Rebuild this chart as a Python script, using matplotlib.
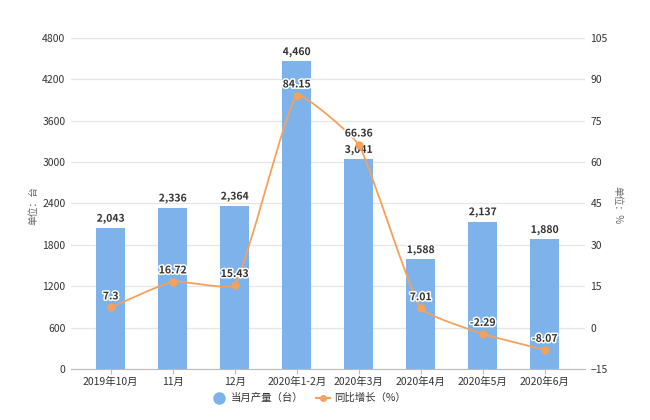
import matplotlib
matplotlib.use("Agg")
import matplotlib.pyplot as plt
from matplotlib.path import Path
from matplotlib.patches import PathPatch
from matplotlib.lines import Line2D
import matplotlib.patheffects as pe
import numpy as np

plt.rcParams['font.family'] = ['Noto Sans CJK SC', 'DejaVu Sans']

categories = ['2019年10月', '11月', '12月', '2020年1-2月', '2020年3月', '2020年4月', '2020年5月', '2020年6月']
output_units = [2043, 2336, 2364, 4460, 3041, 1588, 2137, 1880]
yoy_growth = [7.3, 16.72, 15.43, 84.15, 66.36, 7.01, -2.29, -8.07]
left_ticks = [0, 600, 1200, 1800, 2400, 3000, 3600, 4200, 4800]
right_ticks = [-15, 0, 15, 30, 45, 60, 75, 90, 105]

bar_color = '#7db3ea'
line_color = '#f5a15c'
text_color = '#333333'

fig = plt.figure(figsize=(6.5, 4.2), dpi=100)
ax = fig.add_axes([71/650, 1 - 369/420, (585-71)/650, (369-38)/420])
ax2 = ax.twinx()

x = np.arange(len(categories))
ax.bar(x, output_units, width=0.47, color=bar_color, zorder=2)
ax.set_xlim(-0.64, 7.65)
ax.set_ylim(0, 4800)
ax.set_yticks(left_ticks)
ax.set_xticks(x)
ax.set_xticklabels(categories, fontsize=7.5, color=text_color)
ax.tick_params(axis='y', labelsize=7.5, labelcolor=text_color, length=0, pad=4)
ax.tick_params(axis='x', length=3.5, width=0.8, color='#bbbbbb', pad=2)
ax.grid(axis='y', color='#e6e6e6', linewidth=0.9, zorder=0)
for s in ['top', 'right', 'left']:
    ax.spines[s].set_visible(False)
ax.spines['bottom'].set_color('#bbbbbb')
ax.set_axisbelow(True)

ax2.set_ylim(-15, 105)
ax2.set_yticks(right_ticks)
ax2.tick_params(axis='y', labelsize=7.5, labelcolor=text_color, length=0, pad=4)
for s in ax2.spines.values():
    s.set_visible(False)

# lightly smoothed line (echarts-like bezier smoothing)
sx = 62.0
sy = 331 / 120.0
pts = np.column_stack([x.astype(float), np.array(yoy_growth, dtype=float)])
n = len(pts)
smooth = 0.13
verts = [tuple(pts[0])]
codes = [Path.MOVETO]
cps = []
for i in range(n):
    if i == 0 or i == n - 1:
        cps.append((pts[i], pts[i]))
        continue
    prev, cur, nxt = pts[i-1], pts[i], pts[i+1]
    v = nxt - prev
    d0 = np.hypot((cur[0]-prev[0])*sx, (cur[1]-prev[1])*sy)
    d1 = np.hypot((nxt[0]-cur[0])*sx, (nxt[1]-cur[1])*sy)
    r = d0 + d1
    c0 = cur - v * smooth * d0 / r
    c1 = cur + v * smooth * d1 / r
    cps.append((c0, c1))
for i in range(n - 1):
    verts += [tuple(cps[i][1]), tuple(cps[i+1][0]), tuple(pts[i+1])]
    codes += [Path.CURVE4] * 3
path = Path(verts, codes)
ax2.add_patch(PathPatch(path, facecolor='none', edgecolor=line_color, linewidth=1.3, zorder=3))
ax2.plot(x, yoy_growth, linestyle='none', marker='o', markersize=5, color=line_color, zorder=4)

halo = [pe.withStroke(linewidth=2.2, foreground='white')]
for xi, v in zip(x, output_units):
    ax.text(xi, v + 60, f'{v:,}', ha='center', va='bottom', fontsize=7.5, fontweight='bold',
            color=text_color, path_effects=halo, zorder=5)
for xi, v in zip(x, yoy_growth):
    ax2.text(xi, v + 2.2, f'{v:g}', ha='center', va='bottom', fontsize=7.5, fontweight='bold',
             color=text_color, path_effects=halo, zorder=6)

fig.text(33/650, 1 - 205/420, '单位：台', rotation=90, ha='center', va='center', fontsize=7, color='#666666')
fig.text(617/650, 1 - 205/420, '单位：%', rotation=270, ha='center', va='center', fontsize=7, color='#666666')

handles = [
    Line2D([0], [0], marker='o', linestyle='none', markersize=8, color=bar_color),
    Line2D([0], [0], marker='o', linestyle='-', markersize=4, color=line_color, linewidth=1.5),
]
fig.legend(handles, ['当月产量（台）', '同比增长（%）'], loc='center', bbox_to_anchor=(309/650, 1 - 398/420),
           ncol=2, frameon=False, fontsize=7.5, handlelength=1.4, columnspacing=1.2, handletextpad=0.4,
           labelcolor=text_color)

fig.savefig('out.png', dpi=100)
